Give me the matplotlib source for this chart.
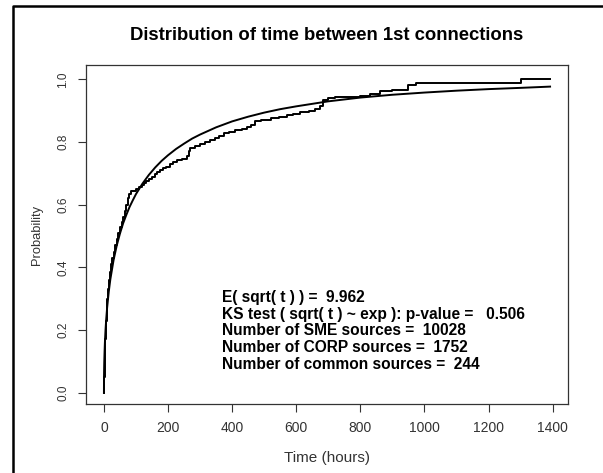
import numpy as np
import matplotlib
matplotlib.use("Agg")
from matplotlib import pyplot as plt
from matplotlib.lines import Line2D

plt.rcParams['font.family'] = ['Liberation Sans', 'DejaVu Sans']

# smooth fitted curve
fit_hours = [0, 0.25, 0.5, 1, 2, 3, 5, 7, 10, 15, 20, 30, 40, 50, 60, 70, 80,
             90, 100, 120, 140, 160, 180, 200, 225, 250, 275, 300, 350, 400,
             450, 500, 550, 600, 700, 800, 900, 1000, 1100, 1200, 1300, 1392]
fit_prob = [0.0, 0.049, 0.069, 0.096, 0.132, 0.160, 0.201, 0.233, 0.272,
            0.322, 0.362, 0.423, 0.470, 0.508, 0.541, 0.568, 0.593, 0.614,
            0.634, 0.667, 0.695, 0.719, 0.740, 0.758, 0.778, 0.795, 0.811,
            0.824, 0.847, 0.866, 0.881, 0.894, 0.905, 0.914, 0.930, 0.942,
            0.951, 0.958, 0.964, 0.969, 0.973, 0.977]

# empirical step curve
emp_hours = [0, 1, 2, 3, 4, 5, 6, 8, 10, 12, 15, 18, 22, 26, 30, 35, 40, 45,
             50, 55, 60, 65, 70, 74, 78, 84, 100, 110, 118, 125, 132, 140, 150,
             158, 166, 175, 185, 195, 205, 215, 228, 245, 258, 265, 270, 285,
             300, 315, 330, 345, 360, 375, 390, 410, 430, 445, 460, 470, 490,
             520, 545, 570, 590, 612, 640, 660, 675, 684, 700, 720, 760, 800,
             830, 862, 900, 950, 975, 1000, 1300, 1392]
emp_prob = [0.0, 0.05, 0.10, 0.14, 0.17, 0.20, 0.23, 0.27, 0.30, 0.33, 0.36,
            0.385, 0.41, 0.43, 0.45, 0.47, 0.49, 0.51, 0.53, 0.545, 0.56, 0.58,
            0.60, 0.62, 0.635, 0.645, 0.650, 0.657, 0.662, 0.668, 0.675,
            0.682, 0.690, 0.698, 0.705, 0.711, 0.716, 0.722, 0.730, 0.737,
            0.742, 0.746, 0.755, 0.770, 0.782, 0.788, 0.793, 0.800, 0.806,
            0.812, 0.820, 0.828, 0.833, 0.838, 0.842, 0.848, 0.855, 0.868,
            0.872, 0.876, 0.880, 0.886, 0.890, 0.897, 0.900, 0.906, 0.915,
            0.935, 0.940, 0.943, 0.945, 0.948, 0.953, 0.964, 0.967, 0.982,
            0.987, 0.990, 1.0, 1.0]

stats_lines = [
    "E( sqrt( t ) ) =  9.962",
    "KS test ( sqrt( t ) ~ exp ): p-value =   0.506",
    "Number of SME sources =  10028",
    "Number of CORP sources =  1752",
    "Number of common sources =  244",
]
stats_y = [0.305, 0.251, 0.197, 0.143, 0.089]

x_ticks = [0, 200, 400, 600, 800, 1000, 1200, 1400]
y_ticks = [0.0, 0.2, 0.4, 0.6, 0.8, 1.0]

GREY = '#333333'

fig = plt.figure(figsize=(6.03, 4.73), dpi=100)
ax = fig.add_axes([0.1426, 0.1459, 0.7994, 0.7167])

ax.plot(fit_hours, fit_prob, color='black', lw=1.4)
ax.step(emp_hours, emp_prob, where='post', color='black', lw=1.4)

for txt, yy in zip(stats_lines, stats_y):
    ax.text(367, yy, txt, fontsize=11.2, fontweight='bold', va='center', ha='left')

ax.set_xlim(-56, 1448)
ax.set_ylim(-0.036, 1.046)
ax.set_xticks(x_ticks)
ax.set_yticks(y_ticks)
ax.set_yticklabels(["%.1f" % v for v in y_ticks], rotation=90, va='center')
ax.tick_params(direction='out', length=6, width=0.8, color=GREY,
               labelcolor=GREY, pad=6)
ax.tick_params(axis='x', labelsize=10)
ax.tick_params(axis='y', labelsize=8.5)
for sp in ax.spines.values():
    sp.set_color(GREY)
    sp.set_linewidth(0.9)

fig.text(0.5415, 1 - 35 / 473, "Distribution of time between 1st connections",
         fontsize=13.3, fontweight='bold', ha='center', va='center')
ax.set_xlabel("Time (hours)", fontsize=11, color=GREY, labelpad=12)
ax.set_ylabel("Probability", fontsize=9.3, color=GREY, labelpad=10)

# outer frame (left and top edges)
fig.add_artist(Line2D([12.5 / 603, 12.5 / 603, 1.0], [0.0, 1 - 6.5 / 473, 1 - 6.5 / 473],
                      transform=fig.transFigure, color='black', lw=1.8))

fig.savefig("out.png", dpi=100)
